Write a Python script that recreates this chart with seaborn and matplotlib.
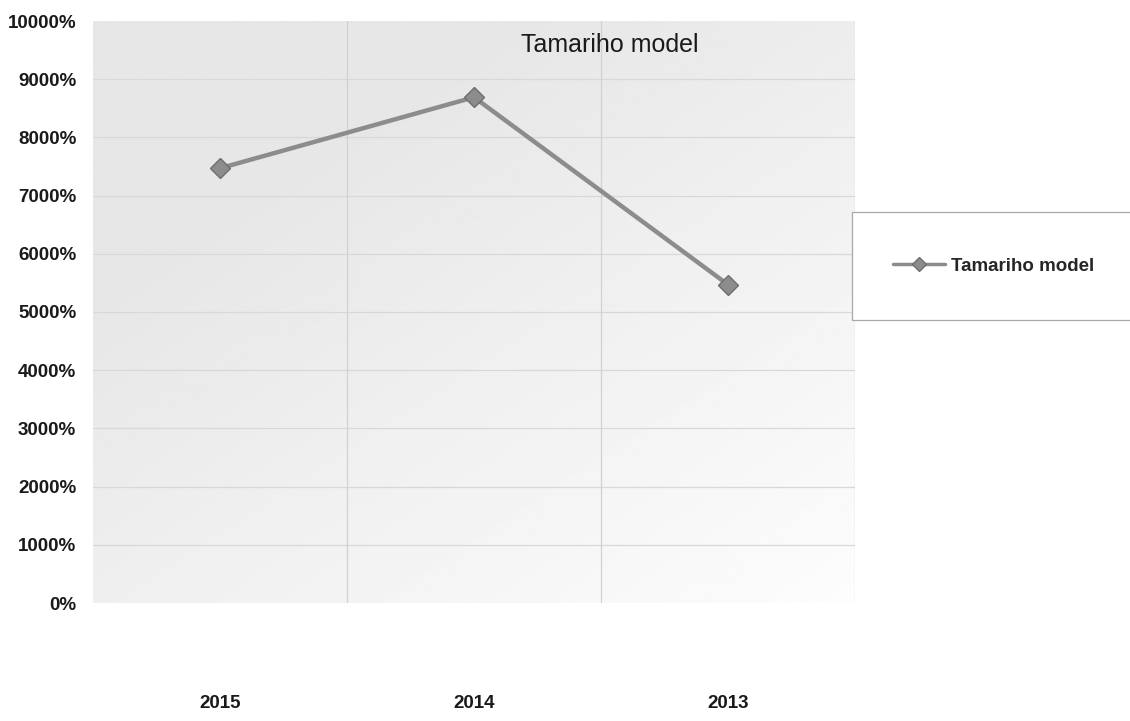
import numpy as np
import matplotlib
matplotlib.use("Agg")
import matplotlib.pyplot as plt
import seaborn as sns
from matplotlib.patches import Rectangle
from matplotlib.ticker import FuncFormatter, MultipleLocator

# ---------------------------------------------------------------------------
# Data
# ---------------------------------------------------------------------------
years = ["2015", "2014", "2013"]
values = [7470, 8690, 5470]          # shown in %
series_name = "Tamariho model"
chart_title = "Tamariho model"

LINE_COLOR = "#8c8c8c"
FONT = ["Liberation Sans", "DejaVu Sans"]

sns.set_theme(style="white")
plt.rcParams["font.family"] = FONT

fig = plt.figure(figsize=(11.3, 7.21), dpi=100)
fig.patch.set_facecolor("white")
ax = fig.add_axes([93 / 1130, 1 - 603 / 721, (855 - 93) / 1130, (603 - 21) / 721])

# soft grey fill of the plot area: greyer at the top/left, fading to white
# towards the bottom right
gx, gy = np.meshgrid(np.linspace(0, 1, 200), np.linspace(0, 1, 200))
shade = 0.905 + 0.09 * np.clip(gx * 0.6 + gy * 0.7 - 0.35, 0, 1)
ax.imshow(shade, cmap="gray", vmin=0, vmax=1, extent=[0, 1, 0, 1],
          transform=ax.transAxes, aspect="auto", zorder=0, origin="upper")

sns.lineplot(x=years, y=values, sort=False, ax=ax, color=LINE_COLOR,
             linewidth=3.2, marker="D", markersize=10,
             markerfacecolor=LINE_COLOR, markeredgecolor="#6e6e6e",
             markeredgewidth=1, label=series_name, legend=False, zorder=3)

ax.set_xlim(-0.5, 2.5)
ax.set_ylim(0, 10000)
ax.yaxis.set_major_locator(MultipleLocator(1000))
ax.yaxis.set_major_formatter(FuncFormatter(lambda v, _: f"{v:.0f}%"))

# horizontal grid at each 1000 %, vertical grid on category boundaries
for v in range(1000, 10000, 1000):
    ax.axhline(v, color="#d6d9d9", lw=0.9, zorder=1)
for b in [0.5, 1.5, 2.5]:
    ax.axvline(b, color="#cfd2d2", lw=0.9, zorder=1)

for s in ax.spines.values():
    s.set_visible(False)
ax.tick_params(axis="both", length=0)
ax.tick_params(axis="y", pad=12)
ax.tick_params(axis="x", pad=66)
for lab in ax.get_yticklabels() + ax.get_xticklabels():
    lab.set_fontweight("bold")
    lab.set_fontsize(13.5)
    lab.set_color("#1a1a1a")
ax.set_xlabel("")
ax.set_ylabel("")

fig.text(610 / 1130, 1 - 45 / 721, chart_title, ha="center", va="center",
         fontsize=18, color="#1a1a1a")

# legend box on the right
box = (852 / 1130, 1 - 320 / 721, (1135 - 852) / 1130, (320 - 212) / 721)
fig.patches.append(Rectangle(box[:2], box[2], box[3], transform=fig.transFigure,
                             facecolor="white", edgecolor="#a8a8a8", lw=0.9))
handles, labels = ax.get_legend_handles_labels()
leg = fig.legend(handles, labels, loc="center", bbox_to_anchor=box,
                 frameon=False, handlelength=2.8, handletextpad=0.3,
                 prop={"weight": "bold", "size": 13.5})
for h in leg.legend_handles:
    h.set_linewidth(2.5)
    h.set_markersize(7)

fig.savefig("out.png", dpi=100)
